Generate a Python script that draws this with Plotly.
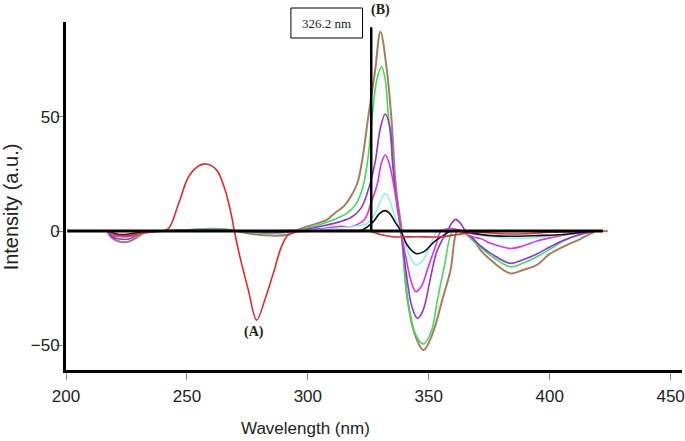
import plotly.graph_objects as go

# ---------------- data ----------------
red_x = [217.5, 220, 223, 227, 231, 236, 240, 242.5, 246.6, 250.7, 254.8, 258.2, 262.3, 265.8, 268.5,
         269.6, 271.9, 275.4, 278.8, 282.2, 285.7, 289.1, 291.9, 296, 305, 315, 325, 330, 335, 345,
         355, 362, 370, 380, 390, 400, 410, 424]
red_y = [0, -1.5, -2, -1.8, -1, -0.3, 0, 1.2, 12.1, 23.7, 28.4, 29.3, 26.6, 17.9, 6.3,
         0, -11.2, -25.8, -38.9, -30.1, -18.5, -6.8, -1.7, -0.3, 0, 0.3, 0, -1.5, -2.5, -2.5,
         -2.5, -1.5, -0.5, -1.2, -1.2, -0.5, -0.3, 0]

brown_x = [217, 219, 222, 226, 229, 232, 240, 250, 260, 268, 275, 285, 292, 297, 303, 308, 311, 315,
           318, 320.5, 322.5, 324.8, 327.8, 330, 332.7, 334.6, 336.4, 338.8, 341.2, 344.2, 347.8, 351.5,
           355.6, 359, 361.8, 364, 368, 371.4, 376, 383.7, 389, 394.7, 400, 405.7, 412.6, 419.4, 421.5]
brown_y = [0, -3, -4.6, -4.6, -3, -1, 0, 0.3, 1, 0.5, -1, -2, -1.5, 1, 3, 5, 7.7, 11,
           15.5, 21, 31, 48.5, 70, 87, 70, 48.5, 19.3, 0, -30, -45, -52, -45,
           -30, -17, 0, 0, -3, -8.3, -13, -18.5, -17, -14.8, -10, -6.8, -3.5, 0, 0]

green_x = [217, 219, 222, 226, 229, 232, 240, 250, 260, 268, 275, 285, 292, 297, 305.5, 311, 316.5,
           320, 322.7, 325, 326.5, 328.5, 330.5, 332, 333.3, 334.8, 336, 338.5, 341, 344.5, 347.8,
           351, 353.6, 356.5, 359.8, 362, 365, 368, 371.4, 376, 383.7, 389, 394.7, 400, 405.7,
           412.6, 419.4, 421.5]
green_y = [0, -2, -2.4, -2.4, -1.5, -0.5, 0, 0.5, 1, 0.5, -0.5, -1, -0.5, 0.5, 3, 5, 8,
           12, 19, 33, 49, 66, 71.7, 66, 50, 35, 20, 0, -28, -45, -49.3,
           -44, -30, -15, 0, 0.5, -1, -4, -7, -11, -15.6, -14, -11.2, -8, -4.4,
           -1.5, 0, 0]

purple_x = [217, 219, 222, 226, 229, 232, 240, 250, 260, 270, 280, 290, 297, 305, 313, 318, 322,
            325, 327.8, 330, 332, 334, 335, 336.5, 338.5, 340.9, 343, 345.3, 347.5, 350.8, 353,
            355.5, 357.7, 359.5, 361.1, 363, 365.2, 368, 371.4, 376, 383.7, 389, 394.7, 400,
            405.7, 412.6, 419.4, 421.5]
purple_y = [0, -2.5, -3.5, -3.5, -2, -0.5, 0, 0.3, 0.5, 0, -0.5, -0.5, 0.3, 2, 4, 6, 10,
            18, 30, 45, 51.1, 45, 30, 15, 0, -20, -33, -38.1, -35, -20, -10,
            -4, 0, 3.5, 5.1, 3.5, 0, -3, -6.5, -10, -14.1, -12.5, -10, -7,
            -4, -1.5, 0, 0]

magenta_x = [217, 220, 224, 228, 232, 240, 260, 280, 297, 305, 313, 318, 323.4, 326, 328.6, 330.5,
             332, 333.5, 335.5, 337, 338.5, 341, 343, 344.7, 347, 350, 353, 355, 358, 362, 365,
             368, 371.4, 376, 383.7, 389, 394.7, 400, 405.7, 412.6, 419.4, 421.5]
magenta_y = [0, -2, -2.5, -2, -0.5, 0, 0.3, 0, 0.3, 1, 2, 2, 5, 12, 20, 30,
             33.2, 30, 20, 10, 0, -14, -23, -26.5, -24, -15, -6, 0, 1, 0.5, -1,
             -2.5, -3.3, -5.5, -7.6, -6.5, -4.4, -3, -1.8, -0.8, 0, 0]

cyan_x = [217, 222, 228, 232, 240, 297, 310, 318, 324, 326, 328, 330, 332, 334, 336, 338.5, 341,
          343, 344.7, 347, 350, 353.6, 358, 362, 368, 376, 383.7, 394.7, 405.7, 414, 421.5]
cyan_y = [0, -2, -1.5, -0.5, 0, 0.3, 1, 2, 3, 5, 8, 13, 16.5, 13, 6, 0, -8,
          -13, -14.8, -13.5, -8, 0, 0.5, 0, -1.5, -2.5, -3.2, -2.8, -1.5, -0.5, 0]

black_x = [217, 222, 228, 232, 240, 297, 315, 322.5, 327, 329.5, 332, 334, 336, 338.5, 341, 344.7,
           348, 352.2, 356, 359, 362, 368, 376, 383.7, 394.7, 405.7, 414, 421.5]
black_y = [0, -1.5, -1, -0.3, 0, 0, 0, 0.5, 4, 7.5, 8.9, 7.5, 4, 0, -6, -9.8,
           -9, -4.7, -2, 0, 0, -1, -2, -2.3, -2, -1.5, -0.5, 0]

zero_x = [200.5, 422]
zero_y = [0, 0]
marker_x = [326.2, 326.2]
marker_y = [0, 89]

x_ticks = [200, 250, 300, 350, 400, 450]
y_ticks = [-50, 0, 50]

# ---------------- figure ----------------
fig = go.Figure()

series = [
    (brown_x, brown_y, "#a97c5e", 2.0),
    (green_x, green_y, "#3fdc5c", 1.6),
    (purple_x, purple_y, "#8a35e0", 1.6),
    (magenta_x, magenta_y, "#e030e8", 1.6),
    (cyan_x, cyan_y, "#8ef0f2", 1.6),
    (black_x, black_y, "#111111", 1.6),
    (red_x, red_y, "#e3292b", 1.6),
]
for xs, ys, col, w in series:
    fig.add_trace(go.Scatter(x=xs, y=ys, mode="lines",
                             line=dict(color=col, width=w, shape="spline", smoothing=1.0),
                             showlegend=False, hoverinfo="skip"))

fig.add_trace(go.Scatter(x=zero_x, y=zero_y, mode="lines",
                         line=dict(color="black", width=3), showlegend=False, hoverinfo="skip"))
fig.add_trace(go.Scatter(x=marker_x, y=marker_y, mode="lines",
                         line=dict(color="black", width=2.5), showlegend=False, hoverinfo="skip"))

tick_font = dict(family="Liberation Sans, Arial", size=17, color="#222")
serif = "Liberation Serif, Times New Roman"

fig.update_layout(
    width=685, height=441,
    margin=dict(l=66, r=0, t=22, b=71),
    paper_bgcolor="white", plot_bgcolor="white",
    xaxis=dict(range=[200, 454.7], tickvals=x_ticks, showgrid=False, zeroline=False,
               showline=True, linecolor="black", linewidth=3,
               ticks="outside", ticklen=7, tickcolor="#888", tickwidth=1,
               tickfont=tick_font, ticklabelstandoff=2, ticklabeloverflow="allow"),
    yaxis=dict(range=[-60.7, 91.3], tickvals=y_ticks, showgrid=False, zeroline=False,
               showline=True, linecolor="black", linewidth=3,
               ticks="outside", ticklen=7, tickcolor="#888", tickwidth=1,
               tickfont=tick_font, ticklabelstandoff=-7),
    shapes=[dict(type="rect", xref="paper", yref="paper",
                 x0=0.3651, x1=0.4814, y0=0.9540, y1=1.0402,
                 line=dict(color="black", width=1), fillcolor="white")],
    annotations=[
        dict(text="326.2 nm", xref="paper", yref="paper", x=0.4233, y=0.9971,
             xanchor="center", yanchor="middle", showarrow=False,
             font=dict(family=serif, size=13, color="#222")),
        dict(text="<b>(B)</b>", xref="paper", yref="paper", x=0.5105, y=1.0345,
             xanchor="center", yanchor="middle", showarrow=False,
             font=dict(family=serif, size=14, color="#222")),
        dict(text="<b>(A)</b>", xref="paper", yref="paper", x=0.3053, y=0.1078,
             xanchor="center", yanchor="middle", showarrow=False,
             font=dict(family=serif, size=14, color="#222")),
        dict(text="Intensity (a.u.)", xref="paper", yref="paper", x=-0.0889, y=0.468,
             xanchor="center", yanchor="middle", textangle=-90, showarrow=False,
             font=dict(family="Liberation Sans, Arial", size=20, color="#222")),
        dict(text="Wavelength (nm)", xref="paper", yref="paper", x=0.389, y=-0.167,
             xanchor="center", yanchor="middle", showarrow=False,
             font=dict(family="Liberation Sans, Arial", size=17, color="#222")),
    ],
)

# the page body has a default 8px margin; remove it so the 685x441 figure fills the window
fig.write_html("out.html", config={"displayModeBar": False},
               post_script="document.body.style.margin='0';")
